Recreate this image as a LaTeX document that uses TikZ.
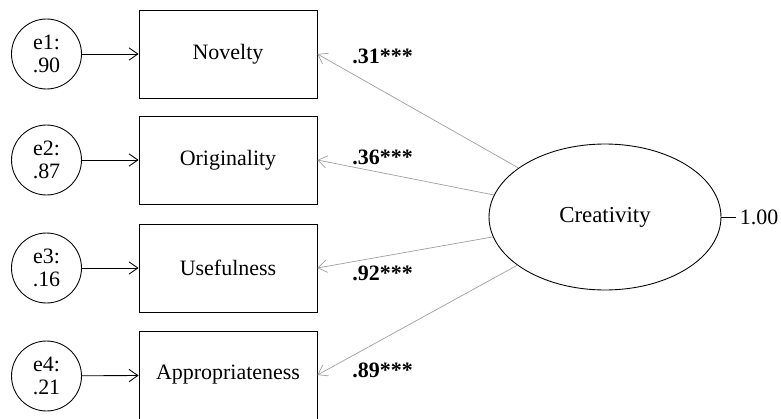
\documentclass[tikz,border=0pt]{standalone}
\usepackage{fontspec}
\setmainfont{Liberation Serif}
\usetikzlibrary{shapes.geometric,arrows.meta}
\begin{document}
\begin{tikzpicture}[x=0.02cm, y=-0.02cm,
        itembox/.style={rectangle, draw, line width=0.5pt,
          minimum width=3.56cm, minimum height=1.76cm,
          align=center, font=\fontsize{12.5}{14}\selectfont},
        errnode/.style={circle, draw, line width=0.5pt,
          minimum size=1.4cm, inner sep=0pt, align=center,
        font=\fontsize{12.5}{13.5}\selectfont},
        latent/.style={ellipse, draw, line width=0.5pt,
          minimum width=4.64cm, minimum height=2.92cm,
        font=\fontsize{13}{14}\selectfont},
        errarrow/.style={-{Straight Barb[length=5pt, width=7pt]}, line width=0.5pt},
        loadarrow/.style={-{Straight Barb[length=5pt, width=7pt]}, draw=gray!75, line width=0.4pt},
        coef/.style={anchor=west, inner sep=0pt, font=\fontsize{12.5}{14}\selectfont\bfseries}
      ]
      \useasboundingbox (0,0) rectangle (781,419);
      \node[itembox] (nov)  at (228, 54)  {Novelty};
      \node[itembox] (orig) at (228, 160) {Originality};
      \node[itembox] (use)  at (228, 268) {Usefulness};
      \node[itembox] (app)  at (228, 375) {Appropriateness};
      \node[errnode] (e1) at (46.5, 54)  {e1:\\.90};
      \node[errnode] (e2) at (46.5, 160) {e2:\\.87};
      \node[errnode] (e3) at (46.5, 268) {e3:\\.16};
      \node[errnode] (e4) at (46.5, 376) {e4:\\.21};
      \node[latent] (creat) at (605, 217) {Creativity};
      \node[anchor=west, inner sep=2pt, font=\fontsize{12.5}{14}\selectfont] (var) at (736, 217) {1.00};
      \draw[errarrow] (e1) -- (nov);
      \draw[errarrow] (e2) -- (orig);
      \draw[errarrow] (e3) -- (use);
      \draw[errarrow] (e4) -- (app);
      \draw[loadarrow] (creat) -- (nov.east);
      \draw[loadarrow] (creat) -- (orig.east);
      \draw[loadarrow] (creat) -- (use.east);
      \draw[loadarrow] (creat) -- (app.east);
      \draw[line width=0.5pt] (creat.east) -- (var.west);
      \node[coef] (l1) at (352, 56)  {.31***};
      \node[coef] (l2) at (352, 157) {.36***};
      \node[coef] (l3) at (352, 273) {.92***};
      \node[coef] (l4) at (352, 370) {.89***};
    \end{tikzpicture}
\end{document}
